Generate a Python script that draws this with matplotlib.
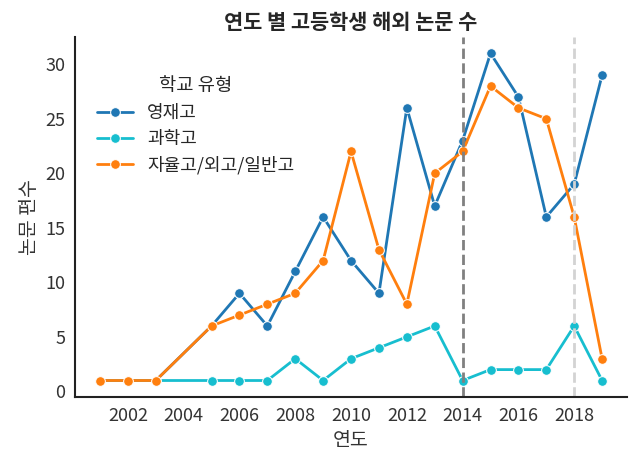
import numpy as np
import pandas as pd
import matplotlib
matplotlib.use('Agg')
import matplotlib.pyplot as plt
import seaborn as sns

# 2004 has no data in the reference
years = [2001, 2002, 2003, 2005, 2006, 2007, 2008, 2009, 2010,
         2011, 2012, 2013, 2014, 2015, 2016, 2017, 2018, 2019]
gifted = [1, 1, 1, 6, 9, 6, 11, 16, 12, 9, 26, 17, 23, 31, 27, 16, 19, 29]
science = [1, 1, 1, 1, 1, 1, 3, 1, 3, 4, 5, 6, 1, 2, 2, 2, 6, 1]
general = [1, 1, 1, 6, 7, 8, 9, 12, 22, 13, 8, 20, 22, 28, 26, 25, 16, 3]
labels = ['영재고', '과학고', '자율고/외고/일반고']
colors = ['#1f77b4', '#17becf', '#ff7f0e']

sns.set_style('white')
plt.rcParams['font.family'] = ['Noto Sans CJK KR', 'DejaVu Sans']

df = pd.DataFrame({'연도': years * 3,
                   '논문 편수': gifted + science + general,
                   '학교 유형': [l for l in labels for _ in years]})

fig = plt.figure(figsize=(6.4, 4.68), dpi=100)
ax = fig.add_axes([0.117, 0.152, 0.863, 0.769])
sns.lineplot(data=df, x='연도', y='논문 편수', hue='학교 유형',
             palette=colors, marker='o', markersize=7, linewidth=2, ax=ax)

ax.axvline(2014, color='gray', linestyle='--', linewidth=2)
ax.axvline(2018, color='lightgray', linestyle='--', linewidth=2)

ax.set_xticks(range(2002, 2019, 2))
ax.tick_params(labelsize=13, colors='#333333')
ax.set_xlabel('연도', fontsize=14, color='#333333')
ax.set_ylabel('논문 편수', fontsize=14, color='#333333')
ax.set_title('연도 별 고등학생 해외 논문 수', fontsize=15, fontweight='bold')
sns.despine()
for s in ['left', 'bottom']:
    ax.spines[s].set_color('#222222')
    ax.spines[s].set_linewidth(1.5)

leg = ax.legend(title='학교 유형', frameon=False, fontsize=13, title_fontsize=13.5,
                loc='upper left', bbox_to_anchor=(0.01, 0.94), labelspacing=0.45)

fig.savefig('out.png', dpi=100)
